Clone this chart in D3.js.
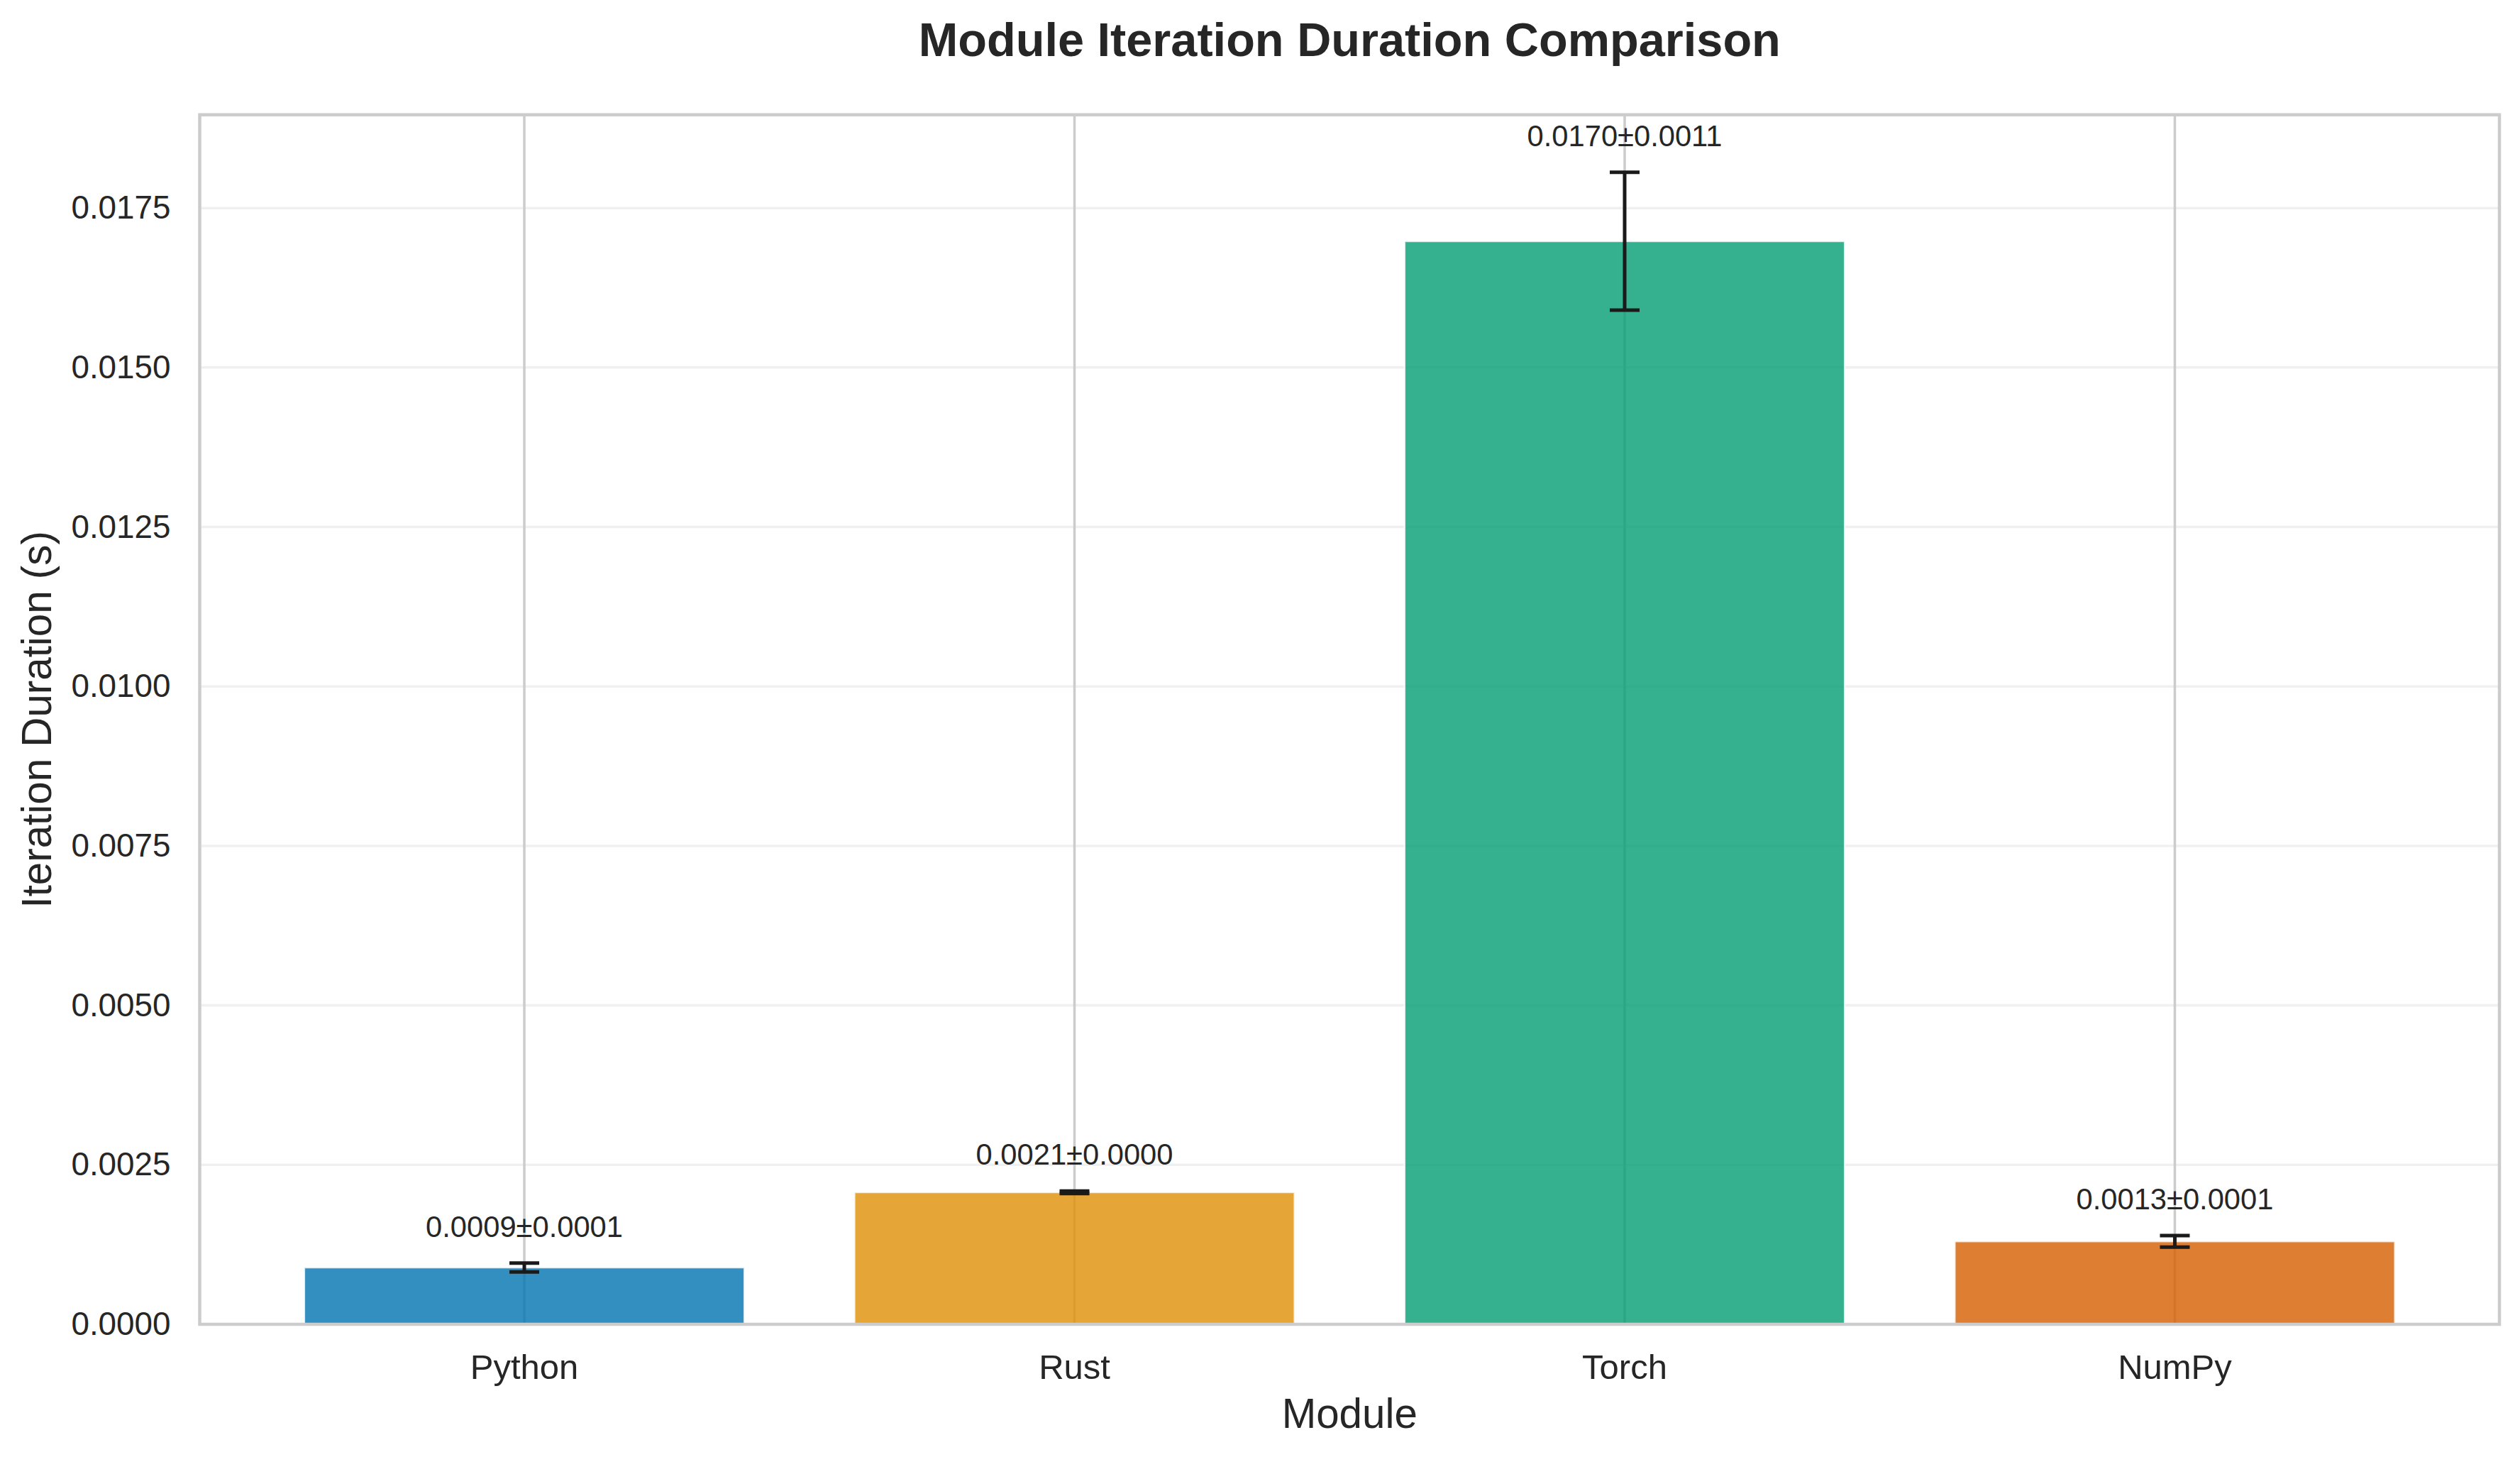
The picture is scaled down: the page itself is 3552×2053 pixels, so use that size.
<!DOCTYPE html>
<html>
<head>
<meta charset="utf-8">
<script src="https://cdn.jsdelivr.net/npm/d3@7"></script>
<style>
  html, body { margin: 0; padding: 0; background: #ffffff; }
  svg { display: block; font-family: "Liberation Sans", Arial, sans-serif; }
</style>
</head>
<body>
<svg id="chart" width="3552" height="2053"></svg>
<script>
// ---- data ----
const modules = ["Python", "Rust", "Torch", "NumPy"];
const durations = [0.00089, 0.00207, 0.01698, 0.00130];
const errors = [0.00007, 0.00002, 0.00108, 0.00009];
const barLabels = ["0.0009±0.0001", "0.0021±0.0000", "0.0170±0.0011", "0.0013±0.0001"];
const barColors = ["#0173b2", "#de8f05", "#029e73", "#d55e00"];
const yTicks = [0, 0.0025, 0.005, 0.0075, 0.01, 0.0125, 0.015, 0.0175];

// ---- layout ----
const W = 3552, H = 2053;
const plot = { left: 281.5, right: 3523, top: 161.7, bottom: 1866 };
const textColor = "#262626";
const gridColor = "#cccccc";

const svg = d3.select("#chart");

const x = d3.scaleBand()
  .domain(modules)
  .range([plot.left, plot.right])
  .paddingInner(0.2)
  .paddingOuter(0.19);

const maxTop = d3.max(durations.map((d, i) => d + errors[i]));
const y = d3.scaleLinear()
  .domain([0, maxTop * 1.05])
  .range([plot.bottom, plot.top]);

// horizontal grid (light)
svg.append("g")
  .selectAll("line")
  .data(yTicks)
  .join("line")
  .attr("x1", plot.left).attr("x2", plot.right)
  .attr("y1", d => y(d)).attr("y2", d => y(d))
  .attr("stroke", gridColor)
  .attr("stroke-opacity", 0.3)
  .attr("stroke-width", 3.5);

// vertical grid
svg.append("g")
  .selectAll("line")
  .data(modules)
  .join("line")
  .attr("x1", d => x(d) + x.bandwidth() / 2).attr("x2", d => x(d) + x.bandwidth() / 2)
  .attr("y1", plot.top).attr("y2", plot.bottom)
  .attr("stroke", gridColor)
  .attr("stroke-width", 3.5);

// bars
svg.append("g")
  .selectAll("rect")
  .data(modules)
  .join("rect")
  .attr("x", d => x(d))
  .attr("width", x.bandwidth())
  .attr("y", (d, i) => y(durations[i]))
  .attr("height", (d, i) => y(0) - y(durations[i]))
  .attr("fill", (d, i) => barColors[i])
  .attr("fill-opacity", 0.8)
  .attr("stroke", "#ffffff")
  .attr("stroke-opacity", 0.8)
  .attr("stroke-width", 2.5);

// error bars
const capHalf = 21;
const eb = svg.append("g")
  .selectAll("g")
  .data(modules)
  .join("g")
  .attr("stroke", "#1a1a1a")
  .attr("stroke-width", 5);
eb.append("line")
  .attr("x1", d => x(d) + x.bandwidth() / 2).attr("x2", d => x(d) + x.bandwidth() / 2)
  .attr("y1", (d, i) => y(durations[i] - errors[i]))
  .attr("y2", (d, i) => y(durations[i] + errors[i]));
eb.append("line")
  .attr("x1", d => x(d) + x.bandwidth() / 2 - capHalf).attr("x2", d => x(d) + x.bandwidth() / 2 + capHalf)
  .attr("y1", (d, i) => y(durations[i] + errors[i]))
  .attr("y2", (d, i) => y(durations[i] + errors[i]));
eb.append("line")
  .attr("x1", d => x(d) + x.bandwidth() / 2 - capHalf).attr("x2", d => x(d) + x.bandwidth() / 2 + capHalf)
  .attr("y1", (d, i) => y(durations[i] - errors[i]))
  .attr("y2", (d, i) => y(durations[i] - errors[i]));

// bar value labels
svg.append("g")
  .selectAll("text")
  .data(modules)
  .join("text")
  .attr("x", d => x(d) + x.bandwidth() / 2)
  .attr("y", (d, i) => y(durations[i] + errors[i]) - 37)
  .attr("text-anchor", "middle")
  .attr("font-size", 41.7)
  .attr("fill", textColor)
  .text((d, i) => barLabels[i]);

// spines
svg.append("rect")
  .attr("x", plot.left).attr("y", plot.top)
  .attr("width", plot.right - plot.left)
  .attr("height", plot.bottom - plot.top)
  .attr("fill", "none")
  .attr("stroke", gridColor)
  .attr("stroke-width", 4.5);

// y axis
const yAxis = svg.append("g")
  .attr("transform", `translate(${plot.left},0)`)
  .call(d3.axisLeft(y).tickValues(yTicks).tickFormat(d3.format(".4f")).tickSize(0).tickPadding(41));
yAxis.select(".domain").remove();
yAxis.selectAll("text")
  .attr("font-size", 45.8)
  .attr("font-family", "Liberation Sans, Arial, sans-serif")
  .attr("fill", textColor);

// x axis
const xAxis = svg.append("g")
  .attr("transform", `translate(0,${plot.bottom})`)
  .call(d3.axisBottom(x).tickSize(0).tickPadding(42));
xAxis.select(".domain").remove();
xAxis.selectAll("text")
  .attr("font-size", 49)
  .attr("font-family", "Liberation Sans, Arial, sans-serif")
  .attr("fill", textColor);

// axis titles
const cx = (plot.left + plot.right) / 2;
const cy = (plot.top + plot.bottom) / 2;
svg.append("text")
  .attr("x", cx).attr("y", 2012)
  .attr("text-anchor", "middle")
  .attr("font-size", 58.3)
  .attr("fill", textColor)
  .text("Module");

svg.append("text")
  .attr("transform", `translate(72,${cy}) rotate(-90)`)
  .attr("text-anchor", "middle")
  .attr("font-size", 58.3)
  .attr("fill", textColor)
  .text("Iteration Duration (s)");

// title
svg.append("text")
  .attr("x", cx).attr("y", 79)
  .attr("text-anchor", "middle")
  .attr("font-size", 66.7)
  .attr("font-weight", "bold")
  .attr("fill", textColor)
  .text("Module Iteration Duration Comparison");
</script>
</body>
</html>
